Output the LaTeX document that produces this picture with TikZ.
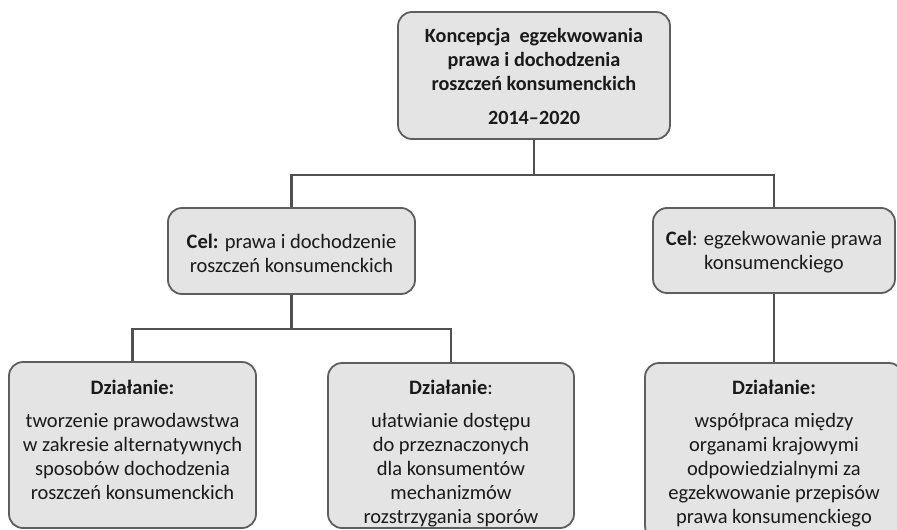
\documentclass[tikz,border=0pt]{standalone}
\usepackage{fontspec}
\setmainfont{Carlito}
\definecolor{boxfill}{HTML}{E4E4E4}
\definecolor{boxline}{HTML}{5E5E5E}
\definecolor{linkc}{HTML}{505050}
\definecolor{ink}{HTML}{1A1A1A}
\begin{document}
\begin{tikzpicture}[x=1pt,y=-1pt,
  box/.style={draw=boxline, fill=boxfill, line width=1.8pt, rounded corners=14pt, inner sep=0pt},
  conn/.style={draw=linkc, line width=2.2pt},
  txt/.style={align=center, font=\fontsize{20.5}{24}\selectfont, inner sep=0pt, text=ink}
]
\useasboundingbox (0,0) rectangle (897,530);
\clip (0,0) rectangle (897,530);

% boxes
\node[box, minimum width=272pt, minimum height=127pt] (top)  at (534,75.5)  {};
\node[box, minimum width=247pt, minimum height=86pt]  (celL) at (291.5,251) {};
\node[box, minimum width=242pt, minimum height=85pt]  (celR) at (774,250.5) {};
\node[box, minimum width=247pt, minimum height=166pt] (actL) at (132.5,445) {};
\node[box, minimum width=246pt, minimum height=165pt] (actM) at (451,445.5) {};
\node[box, minimum width=258pt, minimum height=177pt] (actR) at (774,451.5) {};

% connectors
\draw[conn] (top.south) -- ++(0,35) -| (celL.north);
\draw[conn] (top.south) -- ++(0,35) -| (celR.north);
\draw[conn] (celL.south) -- ++(0,34) -| (actL.north);
\draw[conn] (celL.south) -- ++(0,34) -| (actM.north);
\draw[conn] (celR.south) -- (actR.north);

% texts
\node[txt, font=\fontsize{20.2}{24}\selectfont\bfseries] (tTop) at (534,76)
  {Koncepcja\ \ egzekwowania\\prawa i dochodzenia\\roszczeń konsumenckich\\[10pt]2014–2020};
\node[txt] (tCelL) at (291.5,253) {\textbf{Cel:} prawa i dochodzenie\\roszczeń konsumenckich};
\node[txt] (tCelR) at (774,252) {\textbf{Cel}: egzekwowanie prawa\\konsumenckiego};
\node[txt] (tActL) at (132.5,440)
  {\textbf{Działanie:}\\[9pt]tworzenie prawodawstwa\\w zakresie alternatywnych\\sposobów dochodzenia\\roszczeń konsumenckich};
\node[txt] (tActM) at (451,454)
  {\textbf{Działanie}:\\[9pt]ułatwianie dostępu\\do przeznaczonych\\dla konsumentów\\mechanizmów\\rozstrzygania sporów};
\node[txt] (tActR) at (774,454)
  {\textbf{Działanie:}\\[9pt]współpraca między\\organami krajowymi\\odpowiedzialnymi za\\egzekwowanie przepisów\\prawa konsumenckiego};
\end{tikzpicture}
\end{document}
